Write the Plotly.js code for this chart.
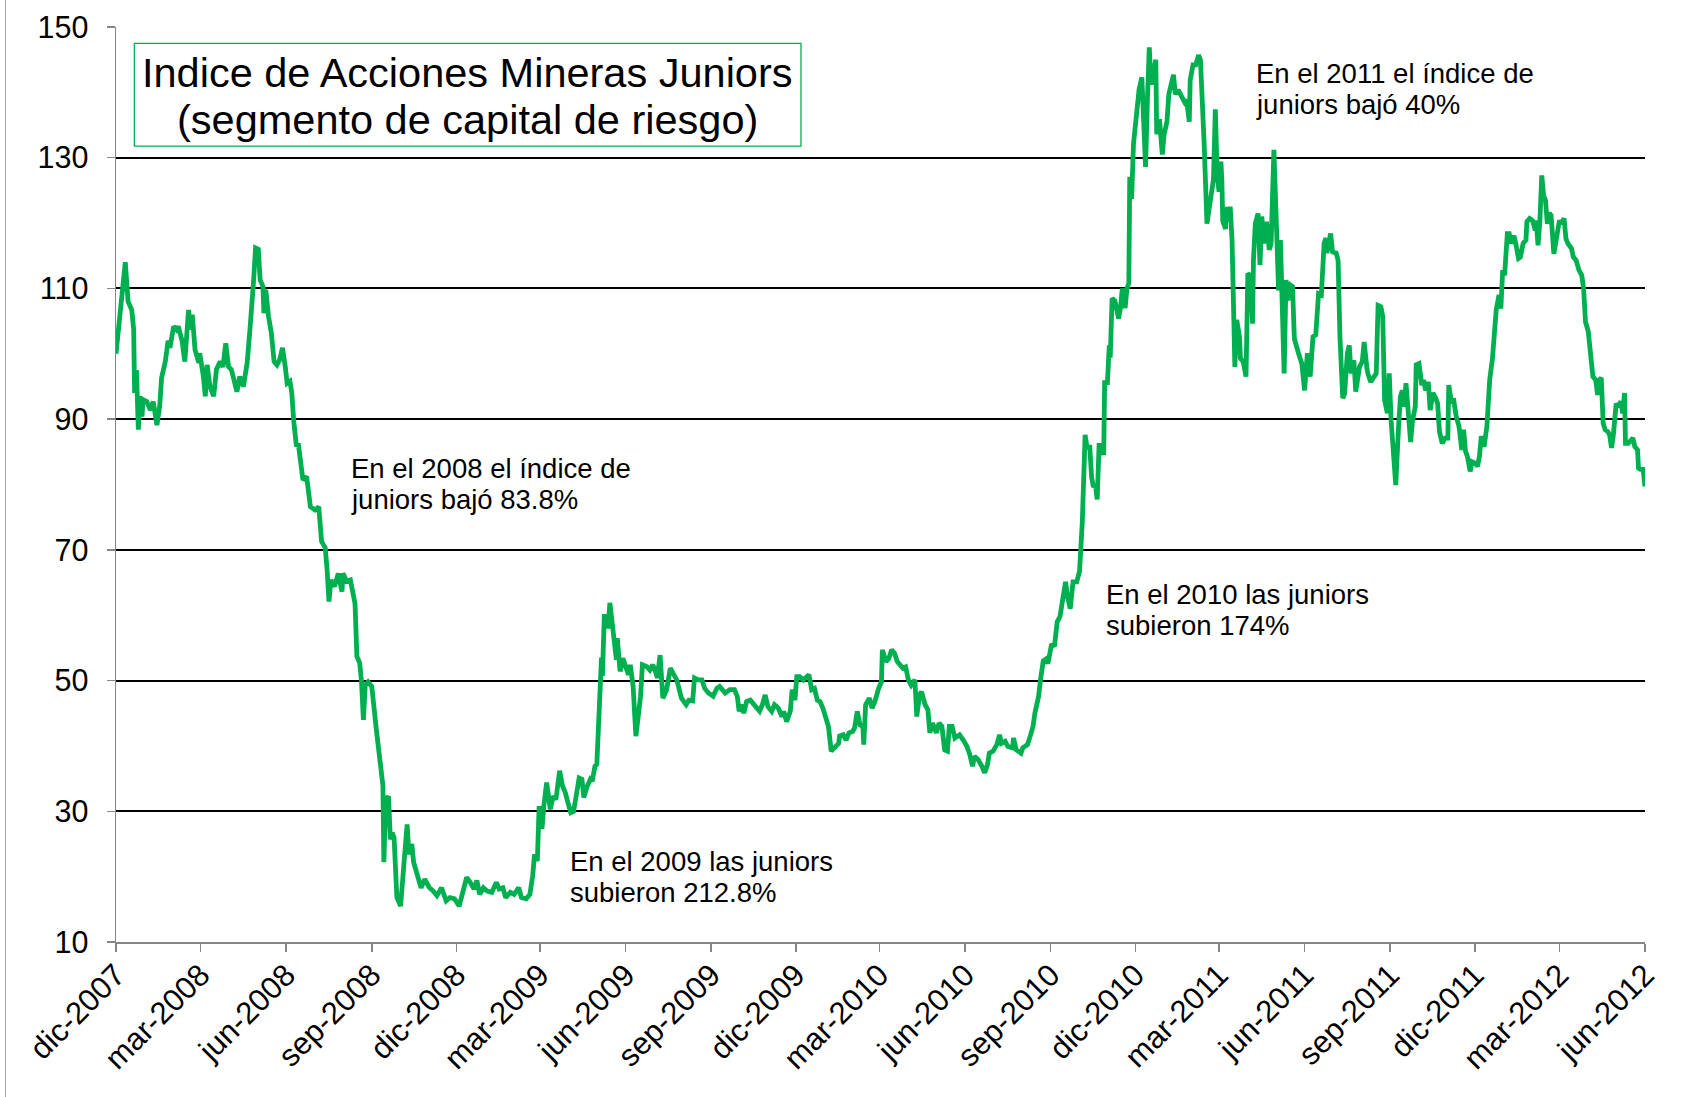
<!DOCTYPE html>
<html>
<head>
<meta charset="utf-8">
<script src="https://cdn.plot.ly/plotly-3.0.1.min.js"></script>
<style>
  html, body { margin: 0; padding: 0; background: #fff; }
  #wrap { position: relative; width: 1685px; height: 1097px; }
  #chart { width: 1685px; height: 1097px; }
  #edge { position: absolute; left: 5px; top: 0; width: 1px; height: 1097px; background: #a6a6a6; }
</style>
</head>
<body>
<div id="wrap"><div id="chart"></div><div id="edge"></div></div>
<script>
// ---- Data ----
// Days elapsed since the series start date, and the index value on that day.
const seriesStart = '2007-12-01';
const dayOffsets = [
  0,10,13,17,19,20,22,24,26,28,
  29,33,37,40,44,47,49,53,56,58,
  62,65,67,71,74,78,80,82,85,89,
  90,94,96,98,101,105,108,112,115,118,
  121,124,130,133,137,141,144,146,148,150,
  153,155,158,159,161,164,167,170,173,176,
  179,182,184,187,189,191,194,196,198,201,
  205,209,214,218,221,225,227,229,231,235,
  239,243,244,248,252,257,259,262,264,266,
  268,271,275,277,280,287,288,290,293,295,
  297,299,302,306,310,313,315,318,320,324,
  328,332,337,341,345,350,355,359,364,369,
  373,377,381,385,388,391,395,399,404,409,
  412,416,419,424,428,433,436,441,445,448,
  450,453,455,458,460,463,467,470,473,477,
  480,483,486,489,492,495,498,501,503,506,
  510,512,515,517,519,520,522,523,525,527,
  529,531,534,536,538,539,542,545,547,551,
  553,556,559,562,564,566,571,574,577,579,
  582,585,588,592,596,599,603,608,613,616,
  620,622,626,630,633,637,642,646,649,655,
  660,665,668,670,673,675,678,682,685,689,
  692,695,698,701,705,708,712,716,718,721,
  725,727,730,732,735,739,742,745,748,751,
  754,757,760,762,766,769,773,777,778,782,
  785,788,792,794,797,800,803,804,806,810,
  813,816,820,823,824,828,831,834,837,840,
  843,846,849,852,855,859,861,864,866,870,
  873,875,878,882,885,888,891,894,896,899,
  902,907,911,915,918,921,923,927,931,934,
  937,939,943,947,950,952,956,959,964,965,
  968,973,975,980,983,986,988,992,994,997,
  1000,1002,1006,1009,1012,1015,1018,1021,1023,1026,
  1029,1033,1036,1039,1042,1044,1047,1049,1051,1053,
  1055,1057,1060,1062,1063,1066,1068,1069,1071,1074,
  1078,1080,1082,1085,1087,1089,1090,1092,1094,1097,
  1100,1103,1105,1107,1109,1111,1113,1115,1118,1119,
  1122,1123,1125,1127,1130,1132,1135,1137,1139,1142,
  1146,1149,1151,1154,1155,1158,1161,1164,1166,1168,
  1170,1173,1175,1178,1180,1182,1184,1186,1188,1189,
  1190,1193,1194,1196,1198,1200,1202,1203,1205,1208,
  1209,1212,1215,1217,1220,1222,1223,1225,1228,1230,
  1232,1234,1237,1240,1242,1245,1248,1250,1252,1254,
  1256,1258,1260,1263,1265,1267,1269,1272,1275,1278,
  1281,1284,1287,1290,1293,1296,1299,1301,1302,1304,
  1306,1308,1312,1314,1316,1319,1321,1324,1326,1328,
  1331,1333,1336,1337,1340,1342,1345,1346,1349,1352,
  1355,1357,1360,1362,1364,1367,1369,1371,1374,1376,
  1379,1381,1383,1385,1387,1389,1392,1394,1397,1398,
  1401,1404,1406,1408,1411,1413,1416,1419,1421,1423,
  1426,1429,1432,1433,1436,1438,1441,1444,1447,1449,
  1451,1453,1456,1458,1461,1464,1466,1468,1471,1474,
  1475,1477,1480,1483,1484,1487,1489,1491,1493,1496,
  1498,1500,1503,1505,1508,1510,1513,1516,1517,1520,
  1523,1526,1527,1529,1531,1533,1535,1537,1539,1541,
  1543,1546,1549,1552,1554,1557,1559,1561,1565,1567,
  1570,1573,1576,1578,1580,1583,1585,1588,1591,1593,
  1595,1597,1599,1601,1604,1606,1608,1610,1613,1615,
  1618,1620,1622,1623,1626,1628,1631,1633,1636,1637,
  1639,1642,1644
];
const indexValues = [
  100,114,108,106.7,103.7,94,97.5,88.4,93.5,90.4,
  93,92.7,91.4,92.7,89.1,92,96.3,98.8,102,100.9,
  104.2,103.7,104.2,102,98.8,106.7,103.7,106,100.6,98.6,
  100.1,96.5,93.5,98.3,95,93.5,97.6,98.8,98,101.6,
  98,97.6,94.2,96.5,95,98.6,103.7,109.3,111.3,116.2,
  116,111.3,110.3,106.2,109.8,105.7,103.2,98.8,98.3,99.1,
  100.9,98,95.5,95.8,94,89.9,85.8,86.3,84.3,80.7,
  81.2,76.6,76.1,76.6,71.3,70.3,66.9,62.1,65.4,64.4,
  66.4,63.6,66.4,65.2,65.4,61.8,53.7,52.7,49.8,44,
  49.3,49.8,49.1,45.5,42.4,33.9,22.2,31.8,32.3,25.7,
  26.7,26,16.8,15.5,22.7,28,23.4,25,22.2,20.1,
  18.3,19.6,18.3,17.8,17.1,18.3,16.3,16.8,16.6,15.5,
  17.6,19.9,19.1,18.1,19.4,17.3,18.3,17.8,17.6,19.1,
  18.1,18.3,16.8,17.6,17.3,18.3,16.8,16.6,17.3,20.1,
  23.4,22.4,30.8,27.3,30.8,34.4,30.3,32.3,31.8,36.2,
  33.9,32.9,31.3,29.8,30,32.3,35.1,34.9,32.1,33.6,
  34.9,34.6,36.9,37.2,42.5,47.1,53.5,50.7,59.8,59.8,
  58,61.9,57.7,54.7,53.2,56.5,51.4,53.4,52.4,50.9,
  52.4,49.1,41.5,45.5,47.6,52.4,52.1,51.6,52.4,51.9,
  50.4,53.9,47.3,48.6,51.9,51.1,50.1,47.3,46.3,47,
  46.9,50.4,50.1,50.1,48.8,48.1,47.6,48.8,49.1,48.1,
  48.6,48.6,47.6,45.3,46.3,45,46.8,47,46.5,45.8,
  45.3,46.3,47.8,46,45.3,46.3,45.8,44.5,45.3,43.7,
  45.3,48.6,47,50.6,50.6,50.1,50.4,50.9,48.6,48.8,
  47,46.8,45.8,45,43,39.2,39.7,40.4,41.5,41.7,
  40.9,42,42.2,42.7,45.3,43.2,43,40.2,46.3,47.3,
  45.8,46.8,48.8,49.8,54.7,52.9,53.4,54.7,54.2,52.9,
  52.4,51.9,52.1,50.1,49.3,50.1,44.5,47.8,48.3,46.3,
  45.5,42,43.5,42,43.5,43,39.4,39.2,43,43,
  41.2,41.7,40.9,39.9,38.7,36.9,38.4,37.9,36.9,35.9,
  37.1,38.9,39.2,40.2,41.7,40.4,40.7,39.9,39.7,41.2,
  39.4,38.9,39.7,40.2,41.5,43,45,47.6,50.1,53,
  53.3,52.6,55.6,55.2,59,59.8,62.5,65.1,62.9,61,
  65.1,65.1,66.7,74.3,87.6,85.7,85.7,81.1,79.6,80,
  77.7,86,86,84.5,95.6,95.6,101.3,99.4,108.5,108.1,
  105.4,107,110,107,110,110.8,127.1,123.7,132.1,135.9,
  140.4,142.3,132.8,128.6,138.9,146.9,141.2,142.3,145,133.6,
  135.9,133.2,130.5,133.6,135.5,139.7,141.9,142.7,139.7,140.4,
  139.3,138.5,138.9,135.5,141.9,144.2,144.2,145.7,145,135.9,
  132.1,119.9,122.2,124.4,126.7,137.4,127.5,124.8,129.4,126.7,
  120.3,119.1,122.5,120.3,122.5,117.4,105.2,98,105.2,102.6,
  99.3,98.8,96.5,112.3,111.8,104.6,114.3,119.9,121.5,113.6,
  121,116.9,120.2,115.9,116.9,131.2,118.4,109.7,117.4,109.2,
  97,111.3,108.2,110.5,110.3,102.3,101.1,99.8,98.5,94.4,
  100.1,96.5,102.6,102.9,109.2,109,116.9,117.7,115.4,117.4,
  118.4,115.6,115.4,114.3,102.6,93.2,93.9,100.1,101.3,97,
  99,94.2,97.2,98,98.8,101.8,97.8,97,95.7,96.5,
  97,107.4,107.2,105.7,92.9,90.9,97,89.8,84.7,79.9,
  88.8,93.4,94.4,91.9,95.5,92.4,86.5,89.8,91.9,98.3,
  98.5,95.2,96,94.4,95.7,91.4,94,93.2,92.4,88.1,
  86.3,87.1,87.1,95.2,92.4,93.2,90.4,88.9,85.3,88.4,
  85.1,84.3,82,83.5,83.3,82.8,84.3,87.4,85.8,88.9,
  91.9,96,99.3,104.1,106.7,109,106.9,112.8,112,118.4,
  118.4,116.9,118.1,116.9,114.6,114.8,116.9,117.4,120.2,120.7,
  120.4,118.9,120.4,116.6,120.4,127.3,124.2,123.5,119.9,121.5,
  121.2,115.3,117.9,120.4,119.9,120.7,117.6,116.9,116.1,114.8,
  114.3,112.8,112,110,104.9,103.4,100.6,96.5,96,93.7,
  96,96.3,89.4,88.4,88.1,87.6,85.6,87.6,92.4,91.9,
  92.7,90.9,94,86.3,86.3,86.6,87.1,85.8,85.3,82.5,
  82.3,82.3,79.7
];

// Axis ticks
const xTickDates = ['2007-12-01','2008-03-01','2008-06-01','2008-09-01','2008-12-01','2009-03-01',
  '2009-06-01','2009-09-01','2009-12-01','2010-03-01','2010-06-01','2010-09-01','2010-12-01',
  '2011-03-01','2011-06-01','2011-09-01','2011-12-01','2012-03-01','2012-06-01'];
const xTickLabels = ['dic-2007','mar-2008','jun-2008','sep-2008','dic-2008','mar-2009',
  'jun-2009','sep-2009','dic-2009','mar-2010','jun-2010','sep-2010','dic-2010',
  'mar-2011','jun-2011','sep-2011','dic-2011','mar-2012','jun-2012'];
const yTicks = [10,30,50,70,90,110,130,150];

const chartTitle = ['Indice de Acciones Mineras Juniors', '(segmento de capital de riesgo)'];
const notes = [
  ['En el 2008 el índice de', 'juniors bajó 83.8%'],
  ['En el 2009 las juniors', 'subieron 212.8%'],
  ['En el 2010 las juniors', 'subieron 174%'],
  ['En el 2011 el índice de', 'juniors bajó 40%']
];

// ---- Build ----
const startMs = Date.parse(seriesStart + 'T00:00:00Z');
const xDates = dayOffsets.map(d => new Date(startMs + d * 86400000).toISOString().slice(0, 10));

const GREEN = '#00B050';
const FONT = 'Liberation Sans, Arial, sans-serif';
const GRAY = '#868686';

const trace = {
  type: 'scatter', mode: 'lines',
  x: xDates, y: indexValues,
  line: { color: GREEN, width: 4.8 },
  hoverinfo: 'x+y', showlegend: false
};

const noteFont = { family: FONT, size: 27.5, color: '#000' };
// paper positions (left edge, line-centre heights) for each note block
const notePos = [
  { x: 0.1524, y: [0.5176, 0.4836] },
  { x: 0.2959, y: [0.0880, 0.0540] },
  { x: 0.6459, y: [0.3802, 0.3463] },
  { x: 0.7443, y: [0.9497, 0.9156] }
];
const annotations = [];
notes.forEach((lines, i) => {
  lines.forEach((t, j) => {
    annotations.push({ text: t, xref: 'paper', yref: 'paper', x: notePos[i].x, y: notePos[i].y[j],
      xanchor: 'left', yanchor: 'middle', align: 'left', showarrow: false, font: noteFont });
  });
});
annotations.push(
  { text: chartTitle[0], xref: 'paper', yref: 'paper', x: 0.2299, y: 0.9507, xanchor: 'center', yanchor: 'middle', showarrow: false, font: { family: FONT, size: 41.5, color: '#000' } },
  { text: chartTitle[1], xref: 'paper', yref: 'paper', x: 0.2299, y: 0.8994, xanchor: 'center', yanchor: 'middle', showarrow: false, font: { family: FONT, size: 41.5, color: '#000' } }
);

const layout = {
  width: 1685, height: 1097,
  margin: { l: 116, r: 40, t: 27, b: 155 },
  paper_bgcolor: '#fff', plot_bgcolor: '#fff',
  font: { family: FONT, color: '#000' },
  xaxis: {
    type: 'date',
    range: [xTickDates[0], xTickDates[xTickDates.length - 1]],
    tickmode: 'array', tickvals: xTickDates, ticktext: xTickLabels,
    tickangle: -45,
    tickfont: { family: FONT, size: 31, color: '#000' },
    ticks: 'outside', ticklen: 8, tickwidth: 1.5, tickcolor: GRAY,
    ticklabelstandoff: -7,
    showline: true, linecolor: GRAY, linewidth: 1.5,
    showgrid: false, zeroline: false
  },
  yaxis: {
    range: [10, 150],
    tickmode: 'array', tickvals: yTicks,
    tickfont: { family: FONT, size: 30.5, color: '#000' },
    ticks: 'outside', ticklen: 8, tickwidth: 1.5, tickcolor: GRAY,
    ticklabelstandoff: 12,
    showline: true, linecolor: GRAY, linewidth: 1.5,
    showgrid: true, gridcolor: '#000', gridwidth: 2,
    zeroline: false
  },
  shapes: [
    { type: 'rect', xref: 'paper', yref: 'paper', x0: 0.0120, x1: 0.4480, y0: 0.8699, y1: 0.9821,
      line: { color: GREEN, width: 1.3 }, fillcolor: 'rgba(0,0,0,0)' }
  ],
  annotations: annotations
};

Plotly.newPlot('chart', [trace], layout, { displayModeBar: false, staticPlot: true });
</script>
</body>
</html>
